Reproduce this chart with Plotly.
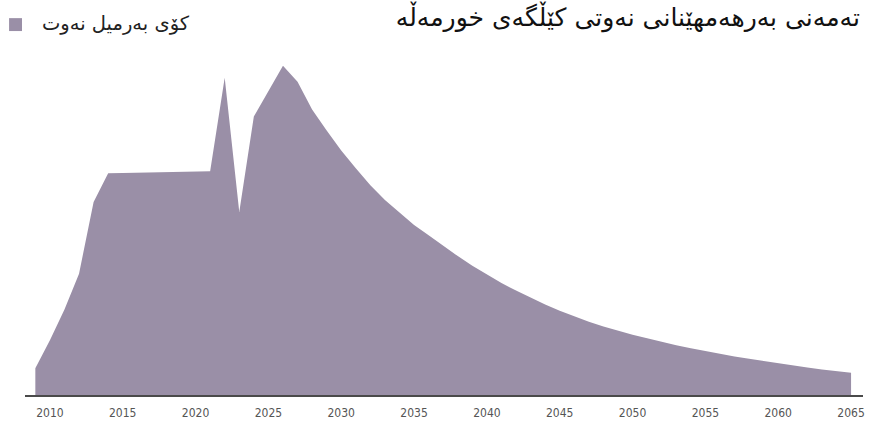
import plotly.graph_objects as go

# Years (yearly data) and estimated production values (arbitrary units)
years = list(range(2009, 2066))
production = [
    8.1, 16.5, 25.8, 36.6, 58.2, 66.9, 67.0, 67.1, 67.2, 67.3,
    67.4, 67.5, 67.5, 95.7, 55.2, 84.0, 91.8, 99.3, 94.5, 86.1,
    79.8, 73.8, 68.4, 63.3, 58.8, 54.9, 51.3, 48.2, 45.0, 41.9,
    39.0, 36.3, 33.8, 31.5, 29.3, 27.3, 25.4, 23.7, 22.1, 20.7,
    19.4, 18.2, 17.1, 16.0, 15.0, 14.1, 13.2, 12.4, 11.6, 10.9,
    10.2, 9.6, 8.9, 8.3, 7.7, 7.2, 6.7,
]
tick_years = list(range(2010, 2070, 5))
tick_labels = [str(y) for y in tick_years]

title_text = "تەمەنی بەرهەمهێنانی نەوتی کێڵگەی خورمەڵە"
legend_text = "کۆی بەرمیل نەوت"
area_color = "#9a8fa7"

fig = go.Figure()
fig.add_trace(go.Scatter(
    x=years, y=production, mode="lines", fill="tozeroy",
    fillcolor=area_color, line=dict(width=0, color=area_color),
    name=legend_text, showlegend=False, hoverinfo="x+y",
))

fig.update_layout(
    width=869, height=424,
    margin=dict(l=25, r=4, t=40, b=27),
    paper_bgcolor="white", plot_bgcolor="white",
    hovermode=False,
    title=dict(
        text=title_text, xref="paper", x=0.9964, xanchor="right",
        yref="container", y=0.96, yanchor="middle",
        font=dict(family="DejaVu Sans", size=25, color="#111111"),
    ),
    xaxis=dict(
        range=[2008.29, 2065.82], showgrid=False, zeroline=False,
        showline=True, linecolor="#4a4a4a", linewidth=2,
        tickmode="array", tickvals=tick_years, ticktext=tick_labels,
        ticks="", ticklabelstandoff=6,
        tickfont=dict(family="DejaVu Sans Condensed", size=12, color="#555555"),
    ),
    yaxis=dict(range=[0, 107.1], visible=False, showgrid=False, zeroline=False),
    font=dict(family="DejaVu Sans"),
    shapes=[dict(
        type="rect", xref="paper", yref="paper",
        x0=-0.019, x1=-0.0036, y0=1.0252, y1=1.0616,
        fillcolor=area_color, line=dict(width=0),
    )],
    annotations=[
        dict(text=legend_text, xref="paper", yref="paper", x=0.0179, y=1.0476,
             xanchor="left", yanchor="middle", showarrow=False,
             font=dict(family="DejaVu Sans", size=19.5, color="#222222")),
    ],
)

fig.write_html(
    "out.html",
    config={"displayModeBar": False},
    post_script="document.body.style.margin='0';document.body.style.overflow='hidden';",
)
